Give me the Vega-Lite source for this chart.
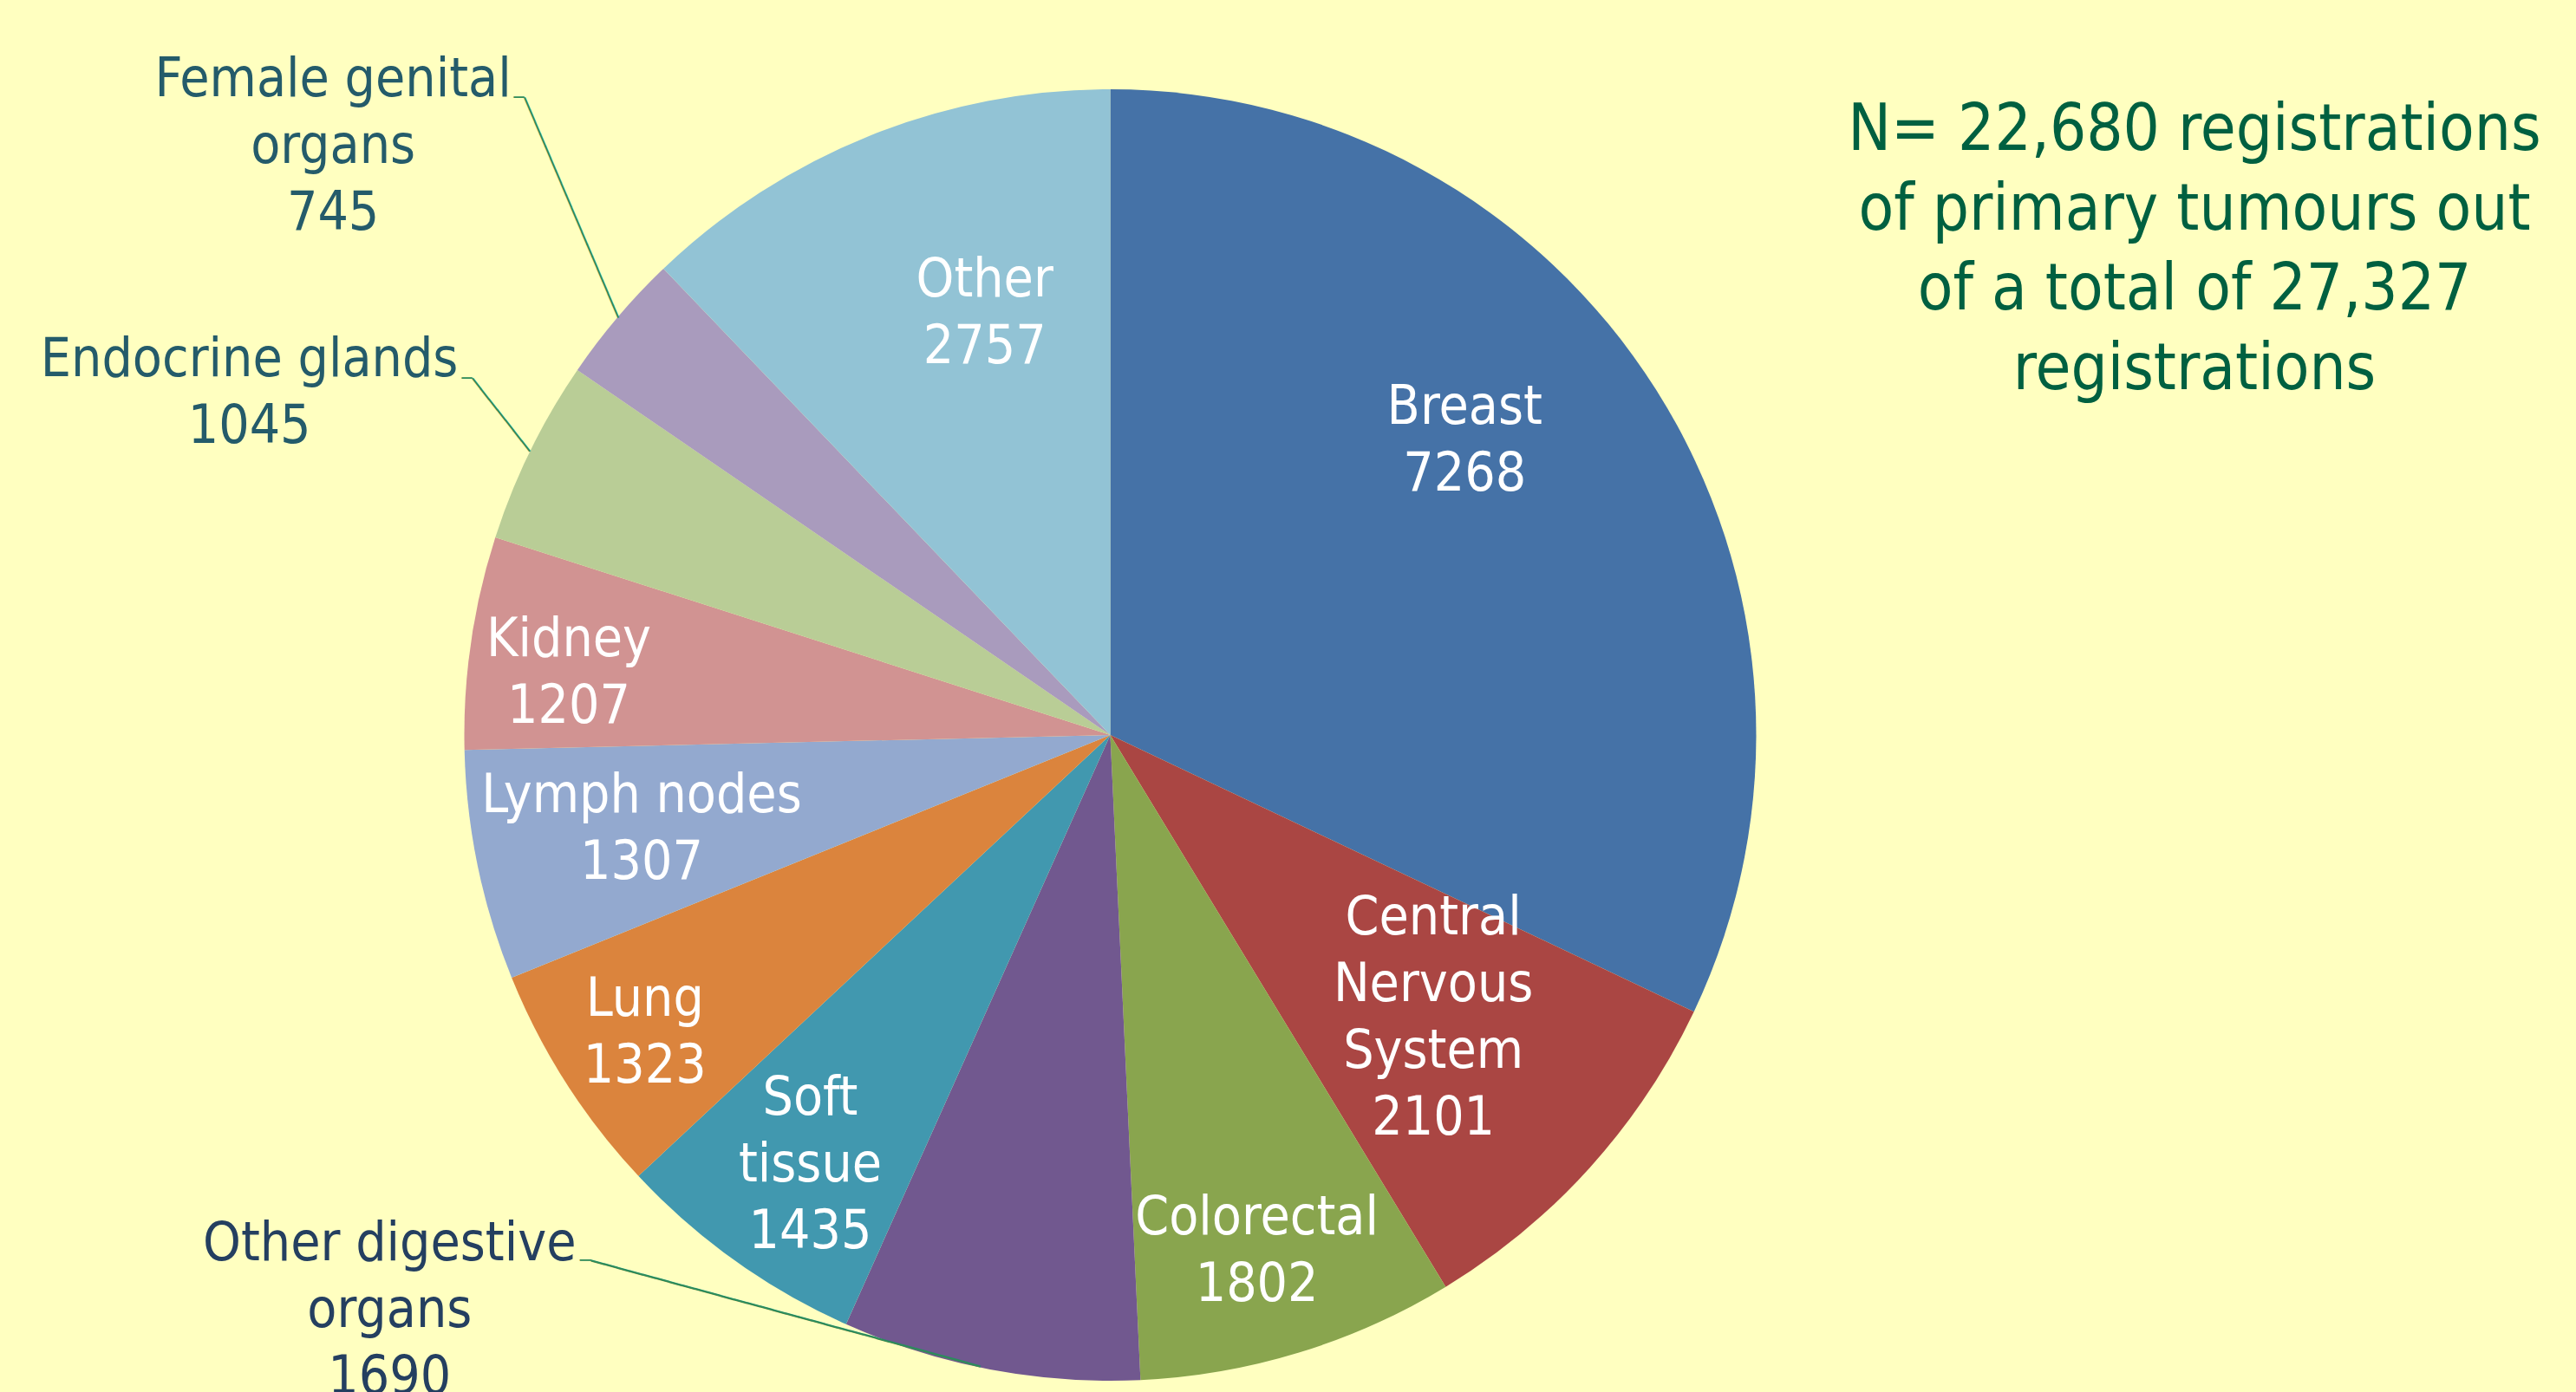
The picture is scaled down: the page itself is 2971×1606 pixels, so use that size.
{
  "$schema": "https://vega.github.io/schema/vega-lite/v6.json",
  "autosize": {"type": "none"},
  "width": 2561,
  "height": 1516,
  "padding": {"left": 0, "top": 90, "right": 410, "bottom": 0},
  "background": "#FFFFC0",
  "config": {"view": {"stroke": null}},
  "title": {
    "text": ["N= 22,680 registrations", " of primary tumours  out", "of a total of 27,327", "registrations"],
    "anchor": "end", "frame": "group", "orient": "top", "align": "center", "baseline": "top",
    "font": "DejaVu Sans Condensed", "fontSize": 74, "fontWeight": "normal", "color": "#006040",
    "lineHeight": 92, "dx": -30, "dy": 971.5, "offset": 0
  },
  "data": {"values": [
    {"site": "Breast", "count": 7268, "rank": 1, "label": "Breast\n7268"},
    {"site": "Central Nervous System", "count": 2101, "rank": 2, "label": "Central\nNervous\nSystem\n2101"},
    {"site": "Colorectal", "count": 1802, "rank": 3, "label": "Colorectal\n1802"},
    {"site": "Other digestive organs", "count": 1690, "rank": 4, "label": "Other digestive\norgans\n1690"},
    {"site": "Soft tissue", "count": 1435, "rank": 5, "label": "Soft\ntissue\n1435"},
    {"site": "Lung", "count": 1323, "rank": 6, "label": "Lung\n1323"},
    {"site": "Lymph nodes", "count": 1307, "rank": 7, "label": "Lymph nodes\n1307"},
    {"site": "Kidney", "count": 1207, "rank": 8, "label": "Kidney\n1207"},
    {"site": "Endocrine glands", "count": 1045, "rank": 9, "label": "Endocrine glands\n1045"},
    {"site": "Female genital organs", "count": 745, "rank": 10, "label": "Female genital\norgans\n745"},
    {"site": "Other", "count": 2757, "rank": 11, "label": "Other\n2757"}
  ]},
  "encoding": {
    "theta": {"field": "count", "type": "quantitative", "stack": true},
    "order": {"field": "rank", "type": "quantitative"},
    "detail": {"field": "site", "type": "nominal"}
  },
  "layer": [
    {
      "mark": {"type": "arc", "outerRadius": 745},
      "encoding": {
        "color": {
          "field": "site", "type": "nominal", "legend": null,
          "scale": {
            "domain": ["Breast", "Central Nervous System", "Colorectal", "Other digestive organs", "Soft tissue", "Lung", "Lymph nodes", "Kidney", "Endocrine glands", "Female genital organs", "Other"],
            "range": ["#4572A7", "#AA4643", "#89A54E", "#71588F", "#4198AF", "#DB843D", "#93A9CF", "#D19392", "#B9CD96", "#A99BBD", "#92C3D5"]
          }
        }
      }
    },
    {
      "mark": {"type": "text", "radius": 531, "dx": -40, "dy": -94.5, "font": "DejaVu Sans Condensed", "fontSize": 62, "lineHeight": 77, "fill": "#FFFFFF", "align": "center", "baseline": "middle", "lineBreak": "\n"},
      "encoding": {"text": {"condition": {"test": "datum.site === 'Breast'", "field": "label", "type": "nominal"}, "value": ""}}
    },
    {
      "mark": {"type": "text", "radius": 495, "dx": 5, "dy": -120.5, "font": "DejaVu Sans Condensed", "fontSize": 62, "lineHeight": 77, "fill": "#FFFFFF", "align": "center", "baseline": "middle", "lineBreak": "\n"},
      "encoding": {"text": {"condition": {"test": "datum.site === 'Central Nervous System'", "field": "label", "type": "nominal"}, "value": ""}}
    },
    {
      "mark": {"type": "text", "radius": 620, "dx": -12, "dy": -35.5, "font": "DejaVu Sans Condensed", "fontSize": 62, "lineHeight": 77, "fill": "#FFFFFF", "align": "center", "baseline": "middle", "lineBreak": "\n"},
      "encoding": {"text": {"condition": {"test": "datum.site === 'Colorectal'", "field": "label", "type": "nominal"}, "value": ""}}
    },
    {
      "mark": {"type": "text", "radius": 604, "dx": 5, "dy": -73, "font": "DejaVu Sans Condensed", "fontSize": 62, "lineHeight": 77, "fill": "#FFFFFF", "align": "center", "baseline": "middle", "lineBreak": "\n"},
      "encoding": {"text": {"condition": {"test": "datum.site === 'Soft tissue'", "field": "label", "type": "nominal"}, "value": ""}}
    },
    {
      "mark": {"type": "text", "radius": 637, "dx": 0, "dy": -38.5, "font": "DejaVu Sans Condensed", "fontSize": 62, "lineHeight": 77, "fill": "#FFFFFF", "align": "center", "baseline": "middle", "lineBreak": "\n"},
      "encoding": {"text": {"condition": {"test": "datum.site === 'Lung'", "field": "label", "type": "nominal"}, "value": ""}}
    },
    {
      "mark": {"type": "text", "radius": 554, "dx": 2, "dy": -42.5, "font": "DejaVu Sans Condensed", "fontSize": 62, "lineHeight": 77, "fill": "#FFFFFF", "align": "center", "baseline": "middle", "lineBreak": "\n"},
      "encoding": {"text": {"condition": {"test": "datum.site === 'Lymph nodes'", "field": "label", "type": "nominal"}, "value": ""}}
    },
    {
      "mark": {"type": "text", "radius": 630, "dx": -1, "dy": -20, "font": "DejaVu Sans Condensed", "fontSize": 62, "lineHeight": 77, "fill": "#FFFFFF", "align": "center", "baseline": "middle", "lineBreak": "\n"},
      "encoding": {"text": {"condition": {"test": "datum.site === 'Kidney'", "field": "label", "type": "nominal"}, "value": ""}}
    },
    {
      "mark": {"type": "text", "radius": 512, "dx": 46, "dy": -50, "font": "DejaVu Sans Condensed", "fontSize": 62, "lineHeight": 77, "fill": "#FFFFFF", "align": "center", "baseline": "middle", "lineBreak": "\n"},
      "encoding": {"text": {"condition": {"test": "datum.site === 'Other'", "field": "label", "type": "nominal"}, "value": ""}}
    },
    {
      "mark": {"type": "text", "radius": 1000, "dx": -134, "dy": -109, "font": "DejaVu Sans Condensed", "fontSize": 62, "lineHeight": 77, "fill": "#245B6A", "align": "center", "baseline": "middle", "lineBreak": "\n"},
      "encoding": {"text": {"condition": {"test": "datum.site === 'Female genital organs'", "field": "label", "type": "nominal"}, "value": ""}}
    },
    {
      "mark": {"type": "text", "radius": 1000, "dx": -95, "dy": 7.5, "font": "DejaVu Sans Condensed", "fontSize": 62, "lineHeight": 77, "fill": "#245B6A", "align": "center", "baseline": "middle", "lineBreak": "\n"},
      "encoding": {"text": {"condition": {"test": "datum.site === 'Endocrine glands'", "field": "label", "type": "nominal"}, "value": ""}}
    },
    {
      "mark": {"type": "text", "radius": 1000, "dx": -645, "dy": -396, "font": "DejaVu Sans Condensed", "fontSize": 62, "lineHeight": 77, "fill": "#243F60", "align": "center", "baseline": "middle", "lineBreak": "\n"},
      "encoding": {"text": {"condition": {"test": "datum.site === 'Other digestive organs'", "field": "label", "type": "nominal"}, "value": ""}}
    },
    {
      "mark": {"type": "text", "radius": 870, "dx": -25.5, "dy": -55.6, "angle": 66.96, "font": "DejaVu Sans Mono", "fontSize": 25.47, "fill": "#2E8B5A", "align": "center", "baseline": "middle"},
      "encoding": {"text": {"condition": {"test": "datum.site === 'Female genital organs'", "value": "──────────────────"}, "value": ""}}
    },
    {
      "mark": {"type": "text", "radius": 794, "dx": -9.2, "dy": -19.8, "angle": 51.84, "font": "DejaVu Sans Mono", "fontSize": 25.34, "fill": "#2E8B5A", "align": "center", "baseline": "middle"},
      "encoding": {"text": {"condition": {"test": "datum.site === 'Endocrine glands'", "value": "───────"}, "value": ""}}
    },
    {
      "mark": {"type": "text", "radius": 766, "dx": -245.9, "dy": -20.6, "angle": 15.2, "font": "DejaVu Sans Mono", "fontSize": 25.76, "fill": "#2E8B5A", "align": "center", "baseline": "middle"},
      "encoding": {"text": {"condition": {"test": "datum.site === 'Other digestive organs'", "value": "──────────────────────────────"}, "value": ""}}
    },
    {
      "mark": {"type": "text", "radius": 1000, "dx": 80.5, "dy": -88, "font": "DejaVu Sans Mono", "fontSize": 20, "fill": "#2E8B5A", "align": "center", "baseline": "middle"},
      "encoding": {"text": {"condition": {"test": "datum.site === 'Female genital organs'", "value": "─"}, "value": ""}}
    },
    {
      "mark": {"type": "text", "radius": 1000, "dx": 156, "dy": 29, "font": "DejaVu Sans Mono", "fontSize": 20, "fill": "#2E8B5A", "align": "center", "baseline": "middle"},
      "encoding": {"text": {"condition": {"test": "datum.site === 'Endocrine glands'", "value": "─"}, "value": ""}}
    },
    {
      "mark": {"type": "text", "radius": 1000, "dx": -419, "dy": -375.5, "font": "DejaVu Sans Mono", "fontSize": 21.6, "fill": "#2E8B5A", "align": "center", "baseline": "middle"},
      "encoding": {"text": {"condition": {"test": "datum.site === 'Other digestive organs'", "value": "─"}, "value": ""}}
    }
  ]
}
